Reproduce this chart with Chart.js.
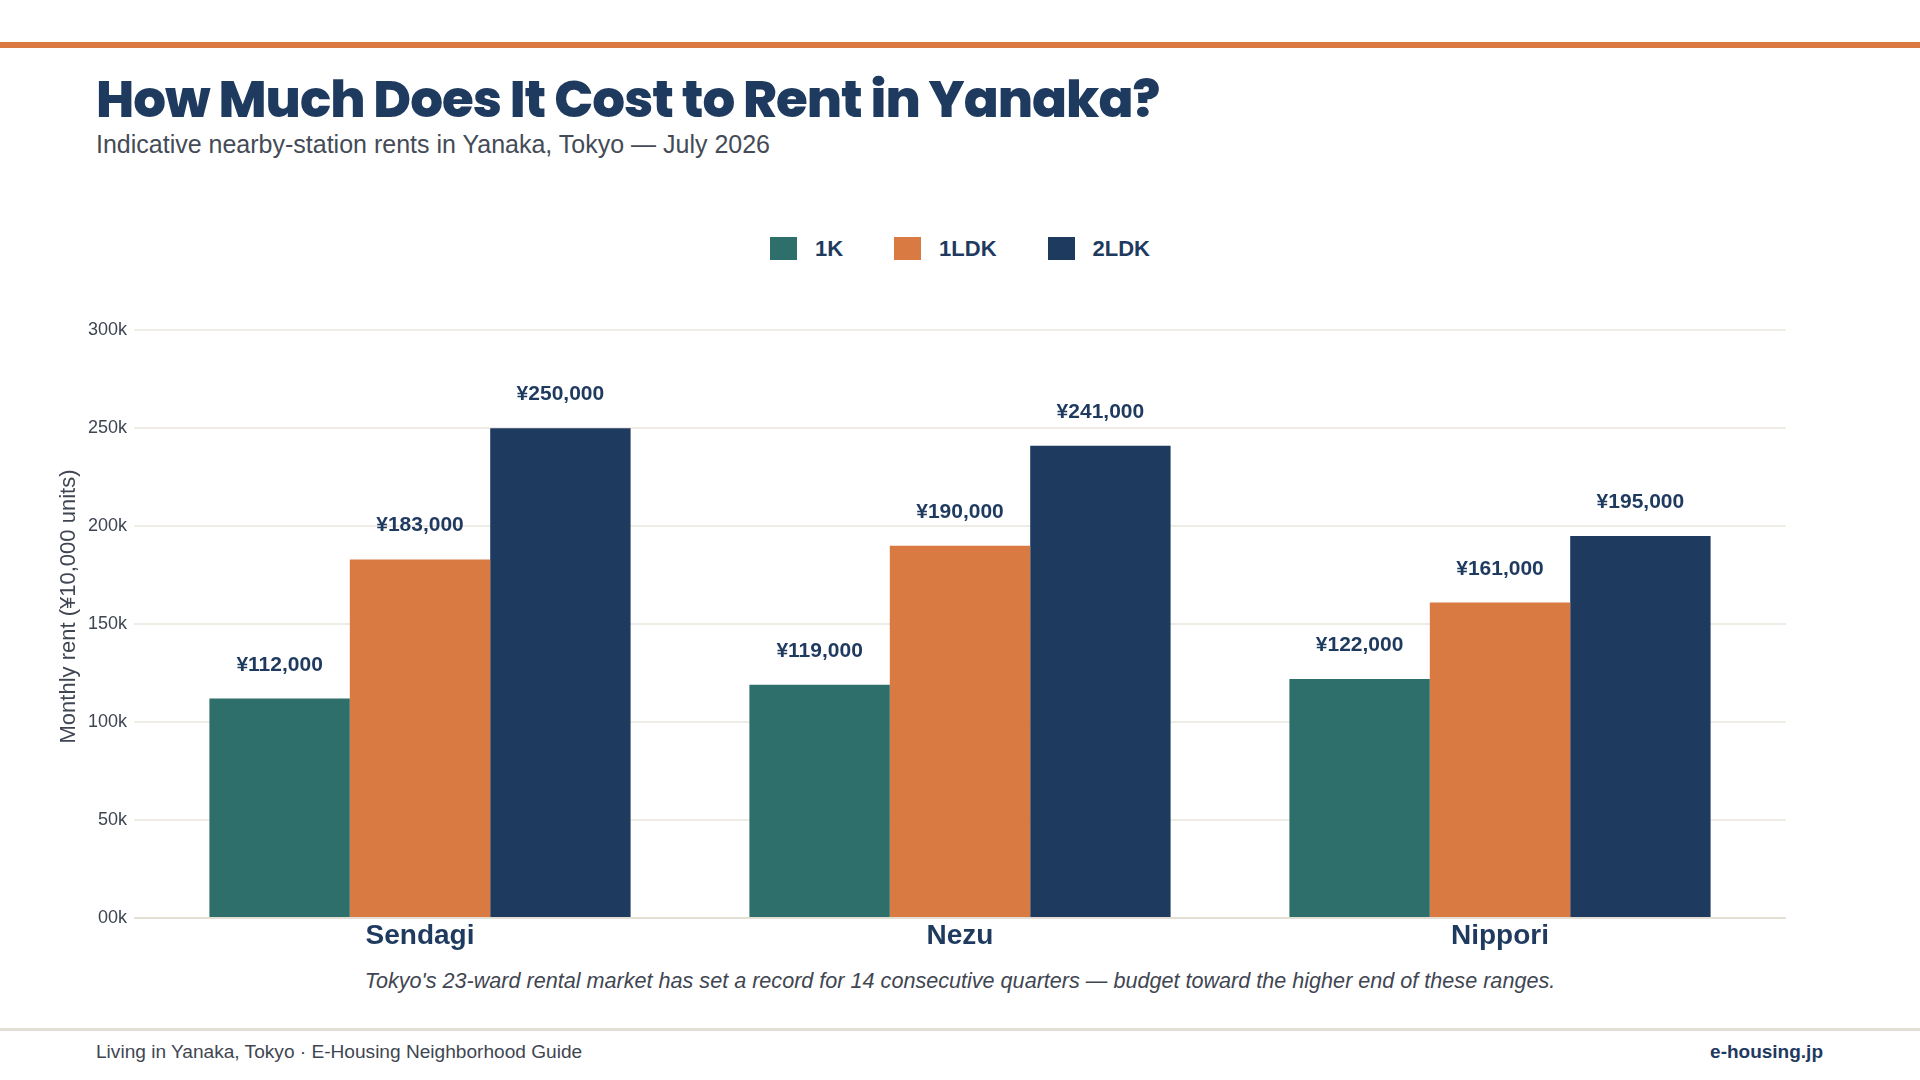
<!DOCTYPE html>
<html>
<head>
<meta charset="utf-8">
<script src="https://cdn.jsdelivr.net/npm/chart.js@4.4.1/dist/chart.umd.min.js"></script>
<style>
  html, body { margin: 0; padding: 0; background: #fff; }
  body { width: 1920px; height: 1080px; position: relative; overflow: hidden; font-family: "Liberation Sans", Arial, sans-serif; }
  .topbar { position: absolute; left: 0; top: 42px; width: 1920px; height: 6px; background: #d97a43; }
  .title { position: absolute; left: 96px; top: 73px; font-family: Poppins, Inter, sans-serif; font-weight: 800; font-size: 51.5px; line-height: 52px; color: #1f3a5f; letter-spacing: -1px; white-space: nowrap; }
  .subtitle { position: absolute; left: 96px; top: 132px; font-size: 25px; line-height: 25px; color: #444b56; white-space: nowrap; }
  .legend { position: absolute; left: 0; top: 237px; width: 1920px; height: 23px; display: flex; justify-content: center; gap: 51px; z-index: 2; }
  .legend .item { display: flex; align-items: center; }
  .legend .box { width: 27px; height: 23px; margin-right: 18px; }
  .legend .lbl { font-weight: bold; font-size: 22px; line-height: 23px; color: #1f3a5f; }
  #wrap { position: absolute; left: 0; top: 275px; width: 1920px; height: 683px; }
  .note { position: absolute; left: 0; top: 970px; width: 1920px; text-align: center; font-style: italic; font-size: 21.6px; line-height: 21px; color: #3f4652; }
  .footline { position: absolute; left: 0; top: 1028px; width: 1920px; height: 3px; background: #e3ded5; }
  .foot { position: absolute; left: 96px; top: 1042px; font-size: 19.1px; line-height: 19px; color: #3f4652; }
  .site { position: absolute; right: 97px; top: 1042px; font-size: 19px; line-height: 19px; font-weight: bold; color: #1f3a5f; }
</style>
</head>
<body>
<div class="topbar"></div>
<div class="title">How Much Does It Cost to Rent in Yanaka?</div>
<div class="subtitle">Indicative nearby-station rents in Yanaka, Tokyo — July 2026</div>
<div class="legend" id="legend"></div>
<div id="wrap"><canvas id="chart"></canvas></div>
<div class="note">Tokyo's 23-ward rental market has set a record for 14 consecutive quarters — budget toward the higher end of these ranges.</div>
<div class="footline"></div>
<div class="foot">Living in Yanaka, Tokyo · E-Housing Neighborhood Guide</div>
<div class="site">e-housing.jp</div>

<script>
const stations = ["Sendagi", "Nezu", "Nippori"];
const seriesNames = ["1K", "1LDK", "2LDK"];
const seriesColors = ["#2f6f6b", "#d97a43", "#1f3a5f"];
const rent1K = [112000, 119000, 122000];
const rent1LDK = [183000, 190000, 161000];
const rent2LDK = [250000, 241000, 195000];
const yTickValues = [0, 50000, 100000, 150000, 200000, 250000, 300000];
const yTickLabels = ["00k", "50k", "100k", "150k", "200k", "250k", "300k"];

const navy = "#1f3a5f";
const gray = "#3f4652";
const gridColor = "#efebe5";
const baseFont = "'Liberation Sans', Arial, sans-serif";

// legend built from the series arrays
const legendEl = document.getElementById("legend");
seriesNames.forEach((name, i) => {
    const item = document.createElement("div");
    item.className = "item";
    item.innerHTML = '<span class="box" style="background:' + seriesColors[i] + '"></span><span class="lbl">' + name + "</span>";
    legendEl.appendChild(item);
});

// yen labels above each bar
const valueLabels = {
    id: "valueLabels",
    afterDatasetsDraw(chart) {
        const ctx = chart.ctx;
        ctx.save();
        ctx.font = "bold 21px " + baseFont;
        ctx.fillStyle = navy;
        ctx.textAlign = "center";
        ctx.textBaseline = "alphabetic";
        chart.data.datasets.forEach((ds, di) => {
            chart.getDatasetMeta(di).data.forEach((bar, i) => {
                ctx.fillText("¥" + ds.data[i].toLocaleString("en-US"), bar.x, bar.y - 28);
            });
        });
        ctx.restore();
    },
};

// a little headroom above the top tick; ticks fixed to the list above
const yScaleBase = {
    min: 0,
    max: 318000,
    border: { display: false },
    afterBuildTicks(scale) {
        scale.ticks = yTickValues.map((v) => ({ value: v }));
    },
};

const gridLineColor = (c) => (c.tick && c.tick.value === 0 ? "#e4dfd5" : gridColor);

new Chart(document.getElementById("chart"), {
    type: "bar",
    data: {
        labels: stations,
        datasets: [rent1K, rent1LDK, rent2LDK].map((values, i) => ({
            label: seriesNames[i],
            data: values,
            backgroundColor: seriesColors[i],
            borderWidth: 0,
            categoryPercentage: 0.78,
            barPercentage: 1.0,
        })),
    },
    options: {
        responsive: true,
        maintainAspectRatio: false,
        animation: false,
        layout: { padding: { top: 20, left: 0, right: 0, bottom: 0 } },
        plugins: {
            legend: { display: false },
            tooltip: { enabled: false },
        },
        scales: {
            x: {
                grid: { display: false },
                border: { display: false },
                ticks: {
                    padding: -7,
                    color: navy,
                    font: { family: baseFont, size: 28, weight: "bold" },
                },
                afterFit(scale) { scale.height = 40; },
            },
            y: {
                ...yScaleBase,
                position: "left",
                grid: { color: gridLineColor, lineWidth: 2, tickLength: 16 },
                ticks: {
                    padding: 7,
                    color: gray,
                    font: { family: baseFont, size: 18 },
                    callback: (v) => yTickLabels[yTickValues.indexOf(v)],
                },
                title: {
                    display: true,
                    text: "Monthly rent (¥10,000 units)",
                    color: gray,
                    font: { family: baseFont, size: 22 },
                    padding: { top: 56, bottom: 0 },
                },
                afterFit(scale) { scale.width = 150; },
            },
            yRight: {
                ...yScaleBase,
                position: "right",
                grid: { drawOnChartArea: false, color: gridLineColor, lineWidth: 2, tickLength: 16 },
                ticks: { display: false },
                afterFit(scale) { scale.width = 150; },
            },
        },
    },
    plugins: [valueLabels],
});
</script>
</body>
</html>
